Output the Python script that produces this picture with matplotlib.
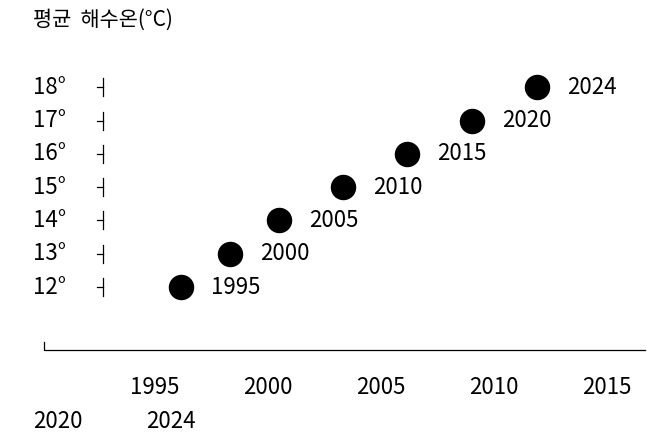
import matplotlib
matplotlib.use("Agg")
import matplotlib.pyplot as plt

title = "평균  해수온(°C)"
years = [1995, 2000, 2005, 2010, 2015, 2020, 2024]
temps = [12, 13, 14, 15, 16, 17, 18]
# horizontal placement of each point (pixel columns)
x_pos = [181, 230, 279, 343, 407, 472, 537]
x_ticks = ["1995", "2000", "2005", "2010", "2015"]
x_ticks_wrapped = ["2020", "2024"]

plt.rcParams["font.family"] = ["Noto Sans CJK KR", "DejaVu Sans"]
SP = "\u2009"  # small gap between digits, like the reference's wide spacing


def spaced(s):
    return " ".join(s) if False else s


fig = plt.figure(figsize=(6.58, 4.38), dpi=100)
ax = fig.add_axes([0, 0, 1, 1])
ax.set_xlim(0, 658)
ax.set_ylim(438, 0)
ax.axis("off")

ax.text(33, 20, title, fontsize=15, va="center", ha="left")


def y_of(t):
    return 287 - (t - 12) * 33.3


for t in temps:
    y = y_of(t)
    ax.text(33, y, f"{t}°", fontsize=16, va="center", ha="left")
    ax.plot([103, 103], [y - 9, y + 9], color="black", lw=0.9)
    ax.plot([97, 103], [y, y], color="black", lw=0.9)

ax.scatter(x_pos, [y_of(t) for t in temps], s=300, color="black", zorder=3)
for x, t, yr in zip(x_pos, temps, years):
    ax.text(x + 30, y_of(t), str(yr), fontsize=16, va="center", ha="left")

ax.plot([44, 44, 645], [342, 350, 350], color="black", lw=0.9)

for i, lab in enumerate(x_ticks):
    ax.text(130 + i * 113, 388, lab, fontsize=16, va="center", ha="left")
for i, lab in enumerate(x_ticks_wrapped):
    ax.text(33 + i * 113, 421, lab, fontsize=16, va="center", ha="left")

fig.savefig("out.png", dpi=100)
